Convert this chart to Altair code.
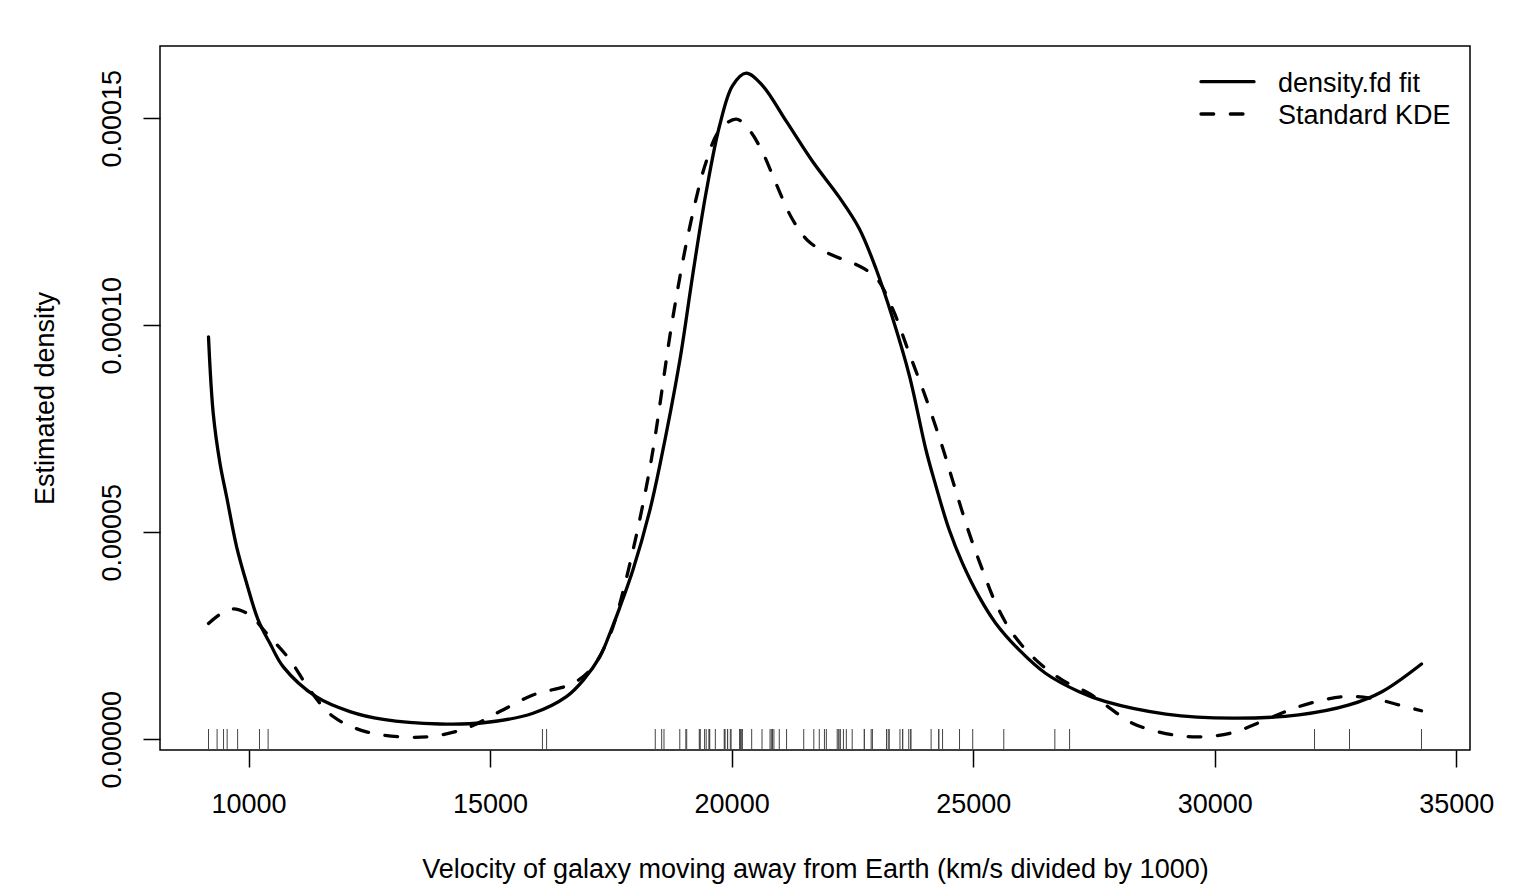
import altair as alt
import pandas as pd

# Galaxy velocities (rug)
galaxies = [9172, 9350, 9483, 9558, 9775, 10227, 10406, 16084, 16170, 18419,
            18552, 18600, 18927, 19052, 19070, 19330, 19343, 19349, 19440, 19473,
            19529, 19541, 19547, 19663, 19846, 19856, 19863, 19914, 19918, 19973,
            19989, 20166, 20175, 20179, 20196, 20215, 20221, 20415, 20629, 20795,
            20821, 20846, 20875, 20986, 21137, 21492, 21701, 21814, 21921, 21960,
            22185, 22209, 22242, 22249, 22314, 22374, 22495, 22746, 22747, 22888,
            22914, 23206, 23241, 23263, 23484, 23538, 23542, 23666, 23706, 23711,
            24129, 24285, 24289, 24366, 24717, 24990, 25633, 26690, 26995, 32065,
            32789, 34279]

# density.fd fit (density in units of 1e-5)
fd_x = [9172, 9270, 9409, 9547, 9754, 9961, 10201, 10443, 10720, 11400,
        12100, 12790, 13960, 14860, 15890, 16580, 16930, 17270, 17480, 17680,
        17960, 18300, 18510, 18920, 19200, 19470, 19750, 20020, 20300, 20640,
        21130, 21680, 22230, 22640, 22990, 23330, 23680, 24020, 24193, 24503,
        24779, 25124, 25469, 25951, 26503, 27192, 27744, 28990, 30360, 31740,
        32780, 33460, 34279]
fd_y = [9.72, 7.87, 6.67, 5.86, 4.65, 3.77, 2.88, 2.32, 1.75, 1.03,
        0.67, 0.48, 0.37, 0.40, 0.63, 1.03, 1.43, 1.99, 2.56, 3.17,
        4.10, 5.50, 6.60, 9.10, 11.26, 13.20, 14.82, 15.79, 16.09, 15.79,
        14.93, 13.95, 13.09, 12.34, 11.36, 10.18, 8.78, 7.00, 6.26, 5.06,
        4.25, 3.44, 2.80, 2.16, 1.59, 1.15, 0.91, 0.61, 0.51, 0.59,
        0.83, 1.15, 1.82]

# Standard KDE (units of 1e-5)
kde_x = [9172, 9450, 9684, 10029, 10374, 10856, 11270, 11752, 12441, 13337,
         13958, 14578, 15199, 15887, 16714, 17128, 17473, 17610, 17955, 18330,
         18782, 19127, 19473, 19749, 20093, 20369, 20644, 20920, 21264, 21609,
         22091, 22574, 22987, 23331, 23677, 24022, 24366, 24572, 24917, 25193,
         25469, 25813, 26296, 26847, 27400, 27800, 28294, 28985, 29674, 30363,
         31053, 31742, 32638, 33258, 33814, 34279]
kde_y = [2.80, 3.05, 3.15, 3.00, 2.56, 1.92, 1.19, 0.55, 0.18, 0.05,
         0.10, 0.30, 0.67, 1.07, 1.35, 1.75, 2.50, 2.96, 4.55, 6.70,
         10.18, 12.34, 13.95, 14.71, 14.98, 14.71, 14.17, 13.42, 12.55, 12.01,
         11.69, 11.47, 11.15, 10.40, 9.32, 8.24, 7.05, 6.26, 4.98, 4.09,
         3.28, 2.56, 1.92, 1.43, 1.11, 0.78, 0.39, 0.14, 0.06, 0.16,
         0.47, 0.79, 1.03, 0.99, 0.83, 0.69]

x_ticks = [10000, 15000, 20000, 25000, 30000, 35000]
y_ticks = [0.0, 0.00005, 0.00010, 0.00015]
legend_labels = ["density.fd fit", "Standard KDE"]

FONT = "Liberation Sans"
W, H = 1310, 704

fd_df = pd.DataFrame({"v": fd_x, "d": [y * 1e-5 for y in fd_y]})
kde_df = pd.DataFrame({"v": kde_x, "d": [y * 1e-5 for y in kde_y]})
rug_df = pd.DataFrame({"v": galaxies})

xscale = alt.Scale(domain=[8168, 35283], nice=False, zero=False)
yscale = alt.Scale(domain=[-0.00000258, 0.00016746], nice=False, zero=False)

xaxis = alt.Axis(
    values=x_ticks, format="d", title="Velocity of galaxy moving away from Earth (km/s divided by 1000)",
    domain=False, grid=False, tickSize=17, tickWidth=1.5, tickColor="black",
    labelFont=FONT, labelFontSize=27, labelColor="black", labelBaseline="alphabetic",
    labelPadding=45, labelFlush=False, labelOverlap=False, labelBound=False,
    titleFont=FONT, titleFontSize=27, titleFontWeight="normal", titleColor="black",
    titleX=W / 2, titleY=127, titleAlign="center", titleBaseline="alphabetic",
)
yaxis = alt.Axis(
    values=y_ticks, format=".5f", title="Estimated density",
    domain=False, grid=False, tickSize=17, tickWidth=1.5, tickColor="black",
    labelFont=FONT, labelFontSize=27, labelColor="black", labelAngle=270,
    labelAlign="center", labelBaseline="alphabetic", labelPadding=23,
    labelFlush=False, labelOverlap=False, labelBound=False,
    titleFont=FONT, titleFontSize=27, titleFontWeight="normal", titleColor="black",
    titleAngle=270, titleX=-107, titleY=H / 2, titleAlign="center", titleBaseline="alphabetic",
)

fd_line = alt.Chart(fd_df).mark_line(
    color="black", strokeWidth=3.3, interpolate="catmull-rom", strokeCap="round", clip=True
).encode(
    x=alt.X("v:Q", scale=xscale, axis=xaxis),
    y=alt.Y("d:Q", scale=yscale, axis=yaxis),
)

kde_line = alt.Chart(kde_df).mark_line(
    color="black", strokeWidth=3.3, interpolate="catmull-rom", strokeCap="round",
    strokeDash=[12.7, 16.6], clip=True
).encode(
    x=alt.X("v:Q", scale=xscale),
    y=alt.Y("d:Q", scale=yscale),
)

rug = alt.Chart(rug_df).mark_rule(color="#444444", strokeWidth=1).encode(
    x=alt.X("v:Q", scale=xscale),
    y=alt.value(H - 21),
    y2=alt.value(H),
)

leg1 = pd.DataFrame({"label": [legend_labels[0]]})
leg2 = pd.DataFrame({"label": [legend_labels[1]]})

leg_rule1 = alt.Chart(leg1).mark_rule(color="black", strokeWidth=3.3, strokeCap="round").encode(
    x=alt.value(1041), x2=alt.value(1094), y=alt.value(35.7)
)
leg_rule2 = alt.Chart(leg2).mark_rule(
    color="black", strokeWidth=3.3, strokeCap="round", strokeDash=[12.7, 16.6]
).encode(
    x=alt.value(1041), x2=alt.value(1094), y=alt.value(68)
)
leg_text1 = alt.Chart(leg1).mark_text(
    font=FONT, fontSize=27, color="black", align="left", baseline="alphabetic"
).encode(x=alt.value(1118), y=alt.value(45.7), text="label:N")
leg_text2 = alt.Chart(leg2).mark_text(
    font=FONT, fontSize=27, color="black", align="left", baseline="alphabetic"
).encode(x=alt.value(1118), y=alt.value(78), text="label:N")

chart = alt.layer(
    rug, kde_line, fd_line, leg_rule1, leg_rule2, leg_text1, leg_text2
).properties(
    width=W, height=H,
    padding={"left": 160, "top": 46, "right": 67, "bottom": 136},
    autosize=alt.AutoSizeParams(type="none"),
    background="white",
).configure_view(stroke="black", strokeWidth=1.5)

chart.save("out.html", embed_options={"renderer": "svg", "actions": False})
